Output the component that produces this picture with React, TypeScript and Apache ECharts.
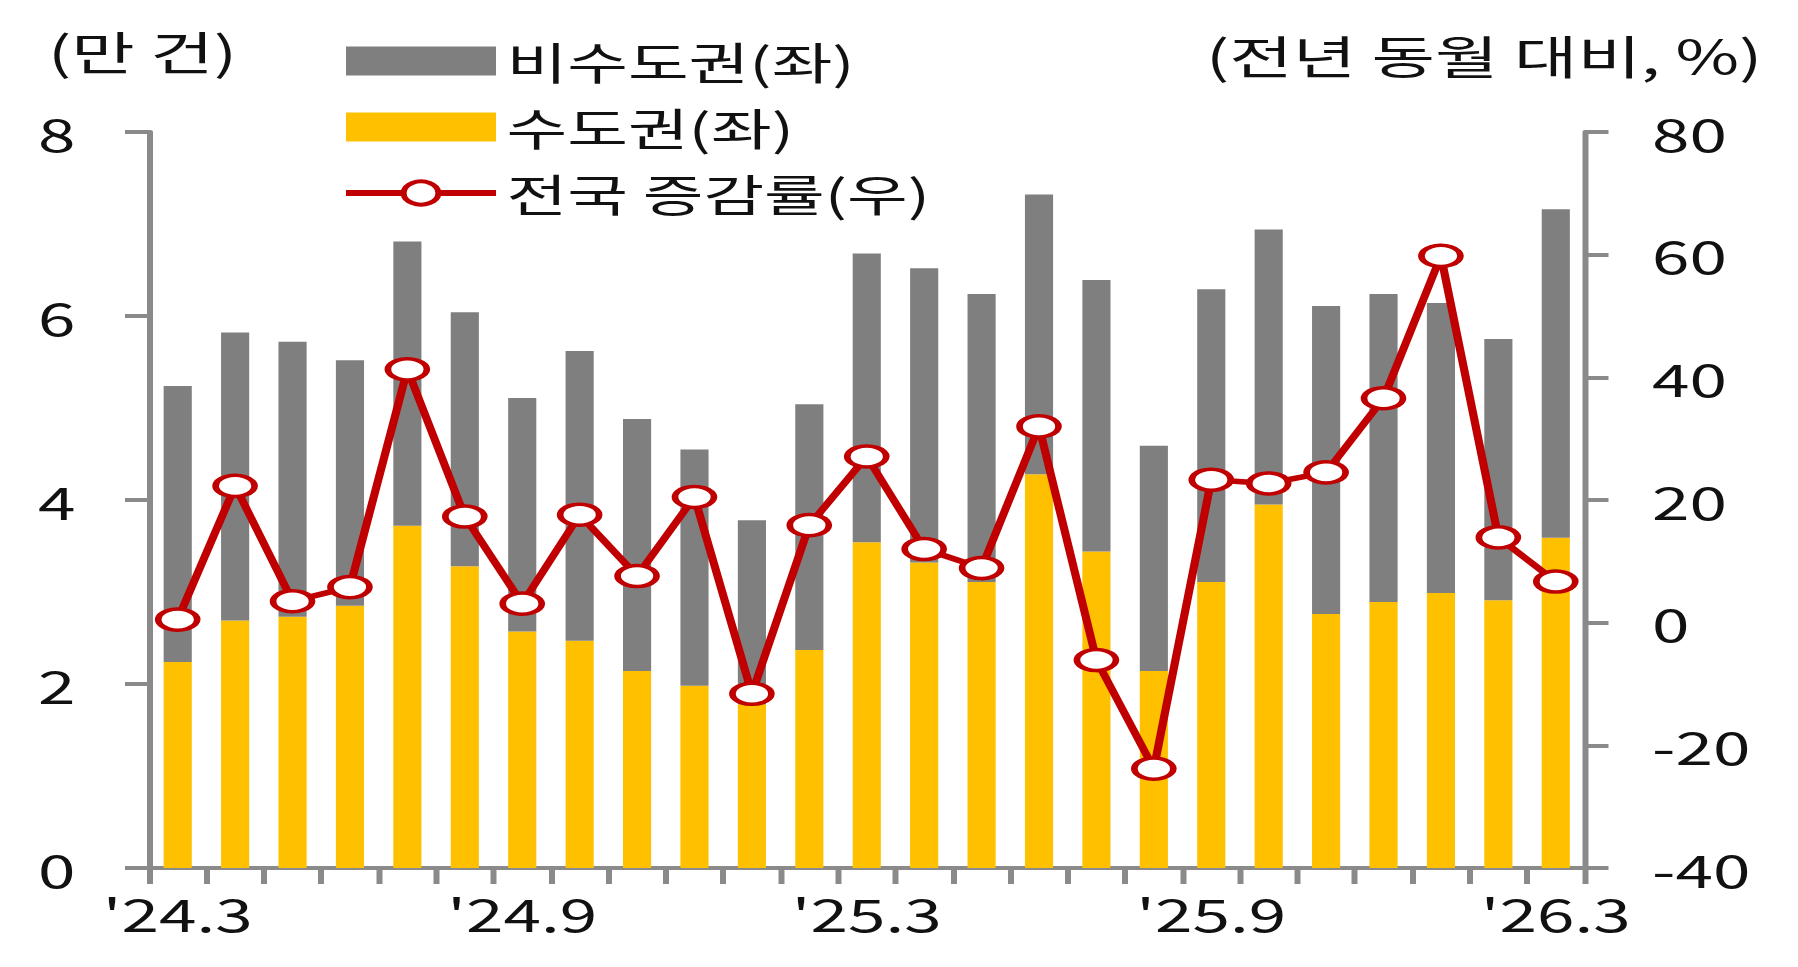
import React, { useEffect, useRef } from "react";
import * as echarts from "echarts";

// ---- data ----
const categories = [
  "'24.3", "'24.4", "'24.5", "'24.6", "'24.7", "'24.8", "'24.9", "'24.10", "'24.11", "'24.12",
  "'25.1", "'25.2", "'25.3", "'25.4", "'25.5", "'25.6", "'25.7", "'25.8", "'25.9", "'25.10",
  "'25.11", "'25.12", "'26.1", "'26.2", "'26.3",
];
const capitalArea = [
  2.24, 2.69, 2.73, 2.85, 3.72, 3.28, 2.57, 2.47, 2.14, 1.98,
  1.78, 2.37, 3.54, 3.32, 3.11, 4.28, 3.44, 2.14, 3.11, 3.95,
  2.76, 2.89, 2.99, 2.91, 3.59,
];
const nonCapitalArea = [
  3.0, 3.13, 2.99, 2.67, 3.09, 2.76, 2.54, 3.15, 2.74, 2.57,
  2.0, 2.67, 3.14, 3.2, 3.13, 3.04, 2.95, 2.45, 3.18, 2.99,
  3.35, 3.35, 3.15, 2.84, 3.57,
];
const nationalGrowth = [
  0.5, 22.3, 3.5, 5.8, 41.3, 17.3, 3.1, 17.6, 7.6, 20.5,
  -11.6, 15.9, 27.1, 12.0, 8.9, 32.0, -6.1, -23.8, 23.3, 22.7,
  24.5, 36.6, 59.8, 13.9, 6.7,
];
const leftTicks = { min: 0, max: 8, interval: 2 };
const rightTicks = { min: -40, max: 80, interval: 20 };
const leftUnit = "(만 건)";
const rightUnit = "(전년 동월 대비, %)";
const seriesNames = ["비수도권(좌)", "수도권(좌)", "전국 증감률(우)"];

// ---- layout ----
const W = 1798;
const H = 967;
const S = 1.5; // horizontal stretch of the reference
const PW = W / S;
const FONT = "'Noto Sans CJK KR', 'Noto Sans', sans-serif";
const AXIS_COLOR = "#8a8a8a";
const RED = "#C00000";

export default function App() {
  const ref = useRef<HTMLDivElement>(null);
  useEffect(() => {
    if (!ref.current) return;
    const chart = echarts.init(ref.current, null, { renderer: "svg" });
    const axisCommon = {
      axisLine: { show: true, lineStyle: { color: AXIS_COLOR, width: 4 } },
      axisTick: { show: true, inside: false, length: 16, lineStyle: { color: AXIS_COLOR, width: 4 } },
      splitLine: { show: false },
    };
    chart.setOption({
      animation: false,
      backgroundColor: "#fff",
      textStyle: { fontFamily: FONT },
      grid: { left: 149 / S, right: PW - 1584 / S, top: 132, bottom: H - 868, containLabel: false },
      legend: {
        orient: "vertical",
        left: 334 / S,
        top: 34,
        itemWidth: 100,
        itemHeight: 29,
        itemGap: 22,
        data: [
          { name: seriesNames[0], icon: "rect" },
          { name: seriesNames[1], icon: "rect" },
          {
            name: seriesNames[2],
            lineStyle: { width: 6, color: RED },
            itemStyle: { color: "#fff", borderColor: RED, borderWidth: 4 },
          },
        ],
        textStyle: { fontSize: 44, color: "#111", fontFamily: FONT, padding: [0, 0, 0, 2] },
      },
      graphic: [
        {
          type: "text",
          left: 32,
          top: 27,
          style: { text: leftUnit, fontSize: 46, fill: "#111", fontFamily: FONT },
        },
        {
          type: "text",
          right: PW - 1762 / S,
          top: 31,
          style: { text: rightUnit, fontSize: 46, fill: "#111", fontFamily: FONT },
        },
      ],
      xAxis: {
        type: "category",
        data: categories,
        boundaryGap: true,
        ...axisCommon,
        axisTick: { ...axisCommon.axisTick, interval: 0, alignWithLabel: false },
        axisLabel: { interval: 5, margin: 22, fontSize: 45, color: "#111", fontFamily: FONT },
      },
      yAxis: [
        {
          type: "value",
          position: "left",
          ...leftTicks,
          ...axisCommon,
          axisLabel: { margin: 49, fontSize: 45, color: "#111", fontFamily: FONT },
        },
        {
          type: "value",
          position: "right",
          ...rightTicks,
          ...axisCommon,
          axisLabel: { margin: 45, fontSize: 45, color: "#111", fontFamily: FONT },
        },
      ],
      series: [
        {
          name: seriesNames[1],
          type: "bar",
          stack: "total",
          data: capitalArea,
          barWidth: "49%",
          itemStyle: { color: "#FFC000" },
        },
        {
          name: seriesNames[0],
          type: "bar",
          stack: "total",
          data: nonCapitalArea,
          barWidth: "49%",
          itemStyle: { color: "#7F7F7F" },
        },
        {
          name: seriesNames[2],
          type: "line",
          yAxisIndex: 1,
          data: nationalGrowth,
          z: 5,
          symbol: "circle",
          symbolSize: [26, 21],
          lineStyle: { color: RED, width: 5.5 },
          itemStyle: { color: "#fff", borderColor: RED, borderWidth: 4 },
        },
      ],
    });
    return () => chart.dispose();
  }, []);
  return (
    <div
      style={{
        position: "fixed",
        left: 0,
        top: 0,
        width: W,
        height: H,
        overflow: "hidden",
        background: "#fff",
      }}
    >
      <div
        ref={ref}
        style={{ width: PW, height: H, transform: `scaleX(${S})`, transformOrigin: "0 0" }}
      />
    </div>
  );
}
